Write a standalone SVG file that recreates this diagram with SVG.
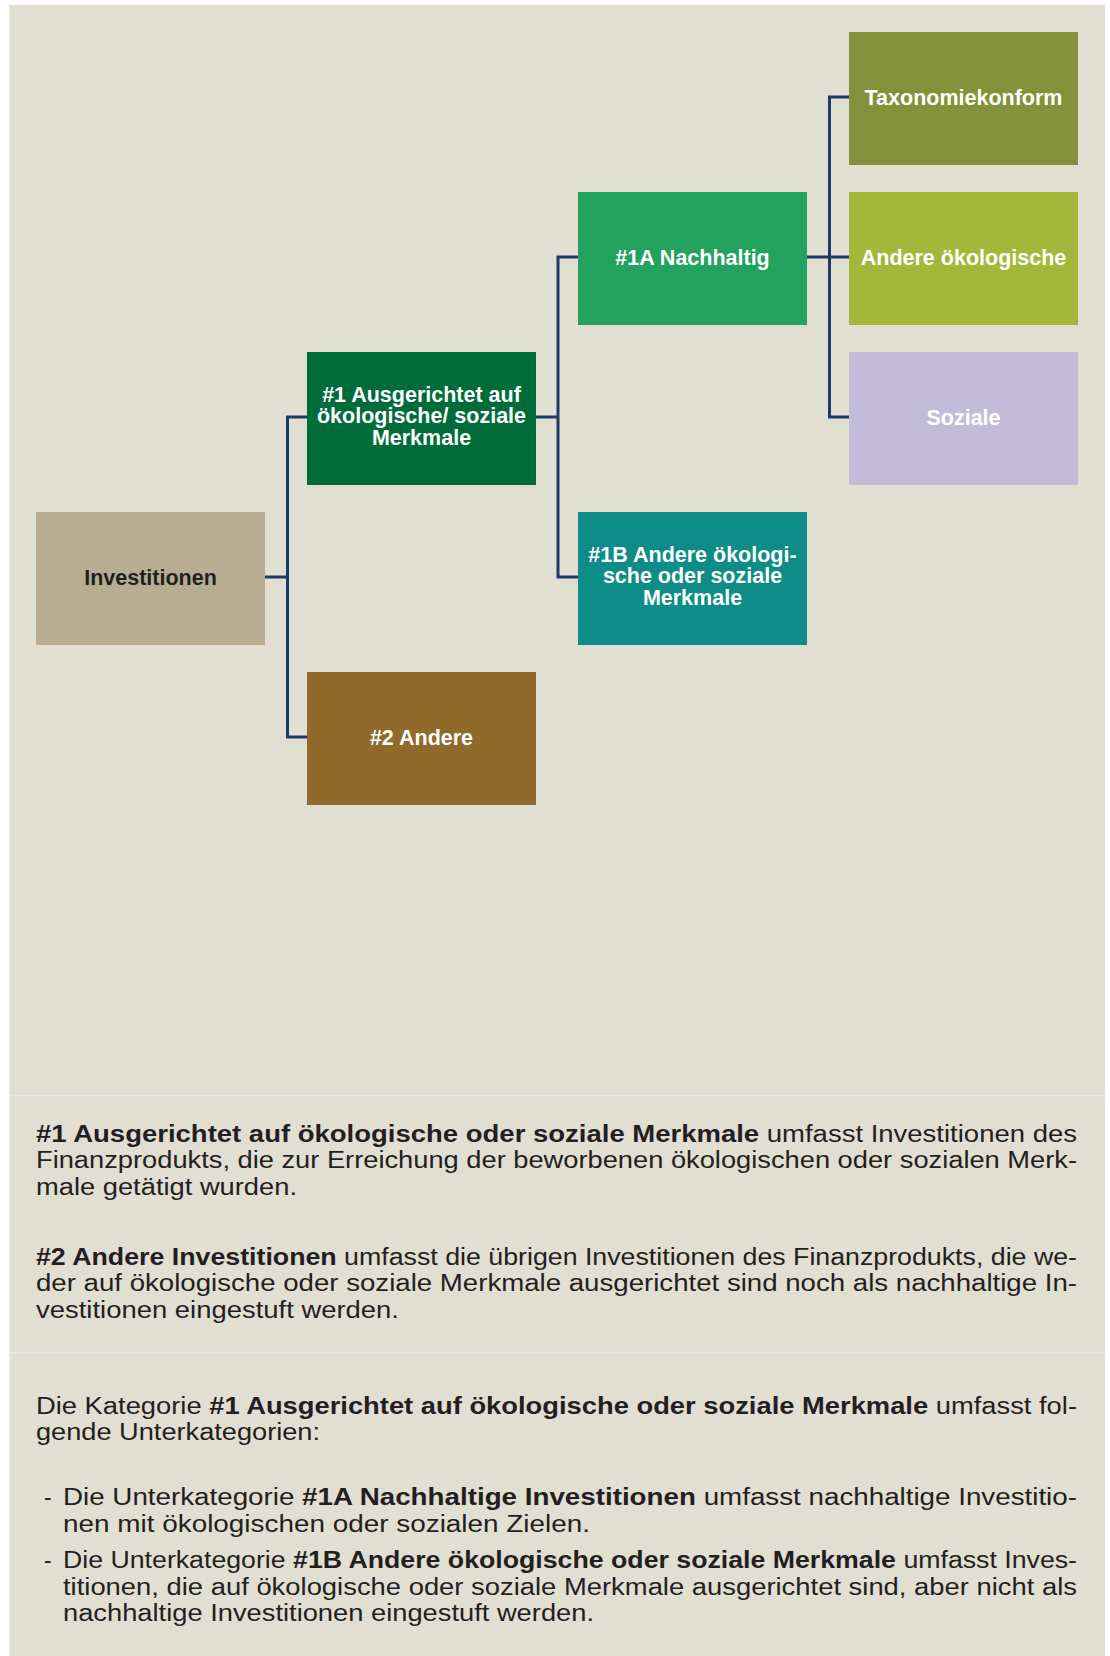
<svg xmlns="http://www.w3.org/2000/svg" width="1110" height="1656" viewBox="0 0 1110 1656">
<style>
  .lbl { font-family: "Liberation Sans", Arial, sans-serif; font-weight: bold; font-size: 21.5px; fill: #ffffff; text-anchor: middle; }
  .dark { fill: #231f20; }
  .body { font-family: "Liberation Sans", Arial, sans-serif; font-size: 23px; fill: #231f20; }
  .b { font-weight: bold; }
  .conn { fill: none; stroke: #1d3a6c; stroke-width: 3; stroke-linejoin: miter; }
  .sep { stroke: #eae7df; stroke-width: 1.2; }
</style>
<rect x="0" y="0" width="1110" height="1656" fill="#ffffff"/>
<rect x="9.5" y="5" width="1095.5" height="1651" fill="#e1ded2"/>
<line class="sep" x1="9.5" y1="1095.7" x2="1105" y2="1095.7"/>
<line class="sep" x1="9.5" y1="1352.7" x2="1105" y2="1352.7"/>

<g id="connectors">
  <path class="conn" d="M265,577 H287.5"/>
  <path class="conn" d="M307,417 H287.5 V737 H307"/>
  <path class="conn" d="M536,417 H558"/>
  <path class="conn" d="M578,257 H558 V577 H578"/>
  <path class="conn" d="M807,257 H849"/>
  <path class="conn" d="M849,97 H829.5 V417 H849"/>
</g>

<g id="node-investitionen">
  <rect x="36" y="512" width="229" height="133" fill="#b8ad90"/>
  <text class="lbl dark" x="150.5" y="584.5">Investitionen</text>
</g>
<g id="node-1">
  <rect x="307" y="352" width="229" height="133" fill="#006c3a"/>
  <text class="lbl" x="421.5" y="401.5">#1 Ausgerichtet auf</text>
  <text class="lbl" x="421.5" y="423">ökologische/ soziale</text>
  <text class="lbl" x="421.5" y="444.5">Merkmale</text>
</g>
<g id="node-2">
  <rect x="307" y="672" width="229" height="133" fill="#8f6a2a"/>
  <text class="lbl" x="421.5" y="744.5">#2 Andere</text>
</g>
<g id="node-1a">
  <rect x="578" y="192" width="229" height="133" fill="#23a25f"/>
  <text class="lbl" x="692.5" y="264.5">#1A Nachhaltig</text>
</g>
<g id="node-1b">
  <rect x="578" y="512" width="229" height="133" fill="#0e8c87"/>
  <text class="lbl" x="692.5" y="561.5">#1B Andere ökologi-</text>
  <text class="lbl" x="692.5" y="583">sche oder soziale</text>
  <text class="lbl" x="692.5" y="604.5">Merkmale</text>
</g>
<g id="node-taxonomie">
  <rect x="849" y="32" width="229" height="133" fill="#83923a"/>
  <text class="lbl" x="963.5" y="104.5">Taxonomiekonform</text>
</g>
<g id="node-andere-oeko">
  <rect x="849" y="192" width="229" height="133" fill="#a3b83b"/>
  <text class="lbl" x="963.5" y="264.5">Andere ökologische</text>
</g>
<g id="node-soziale">
  <rect x="849" y="352" width="229" height="133" fill="#c3bcd9"/>
  <text class="lbl" x="963.5" y="424.5">Soziale</text>
</g>

<g id="description">
  <text class="body" x="36" y="1141.7" textLength="1041" lengthAdjust="spacingAndGlyphs"><tspan class="b">#1 Ausgerichtet auf ökologische oder soziale Merkmale</tspan> umfasst Investitionen des</text>
  <text class="body" x="36" y="1168.3" textLength="1041" lengthAdjust="spacingAndGlyphs">Finanzprodukts, die zur Erreichung der beworbenen ökologischen oder sozialen Merk-</text>
  <text class="body" x="36" y="1194.5" textLength="261" lengthAdjust="spacingAndGlyphs">male getätigt wurden.</text>

  <text class="body" x="36" y="1264.5" textLength="1041" lengthAdjust="spacingAndGlyphs"><tspan class="b">#2 Andere Investitionen</tspan> umfasst die übrigen Investitionen des Finanzprodukts, die we-</text>
  <text class="body" x="36" y="1291" textLength="1041" lengthAdjust="spacingAndGlyphs">der auf ökologische oder soziale Merkmale ausgerichtet sind noch als nachhaltige In-</text>
  <text class="body" x="36" y="1317.5" textLength="363" lengthAdjust="spacingAndGlyphs">vestitionen eingestuft werden.</text>

  <text class="body" x="36" y="1413.5" textLength="1041" lengthAdjust="spacingAndGlyphs">Die Kategorie <tspan class="b">#1 Ausgerichtet auf ökologische oder soziale Merkmale</tspan> umfasst fol-</text>
  <text class="body" x="36" y="1440" textLength="284" lengthAdjust="spacingAndGlyphs">gende Unterkategorien:</text>

  <text class="body" x="44" y="1505">-</text>
  <text class="body" x="63" y="1505" textLength="1014" lengthAdjust="spacingAndGlyphs">Die Unterkategorie <tspan class="b">#1A Nachhaltige Investitionen</tspan> umfasst nachhaltige Investitio-</text>
  <text class="body" x="63" y="1531.5" textLength="527" lengthAdjust="spacingAndGlyphs">nen mit ökologischen oder sozialen Zielen.</text>

  <text class="body" x="44" y="1568">-</text>
  <text class="body" x="63" y="1568" textLength="1014" lengthAdjust="spacingAndGlyphs">Die Unterkategorie <tspan class="b">#1B Andere ökologische oder soziale Merkmale</tspan> umfasst Inves-</text>
  <text class="body" x="63" y="1594.5" textLength="1014" lengthAdjust="spacingAndGlyphs">titionen, die auf ökologische oder soziale Merkmale ausgerichtet sind, aber nicht als</text>
  <text class="body" x="63" y="1620.5" textLength="531" lengthAdjust="spacingAndGlyphs">nachhaltige Investitionen eingestuft werden.</text>
</g>
</svg>
